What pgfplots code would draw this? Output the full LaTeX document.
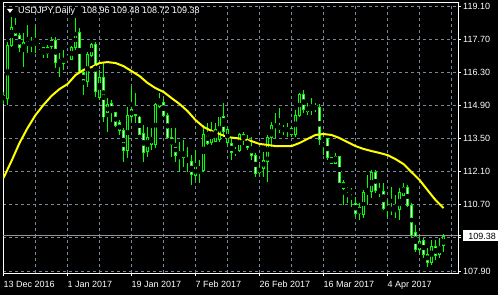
\documentclass[border=0pt]{standalone}
\usepackage{pgfplots}
\pgfplotsset{compat=1.18}
\usepackage{pgfplotstable}
\usepackage{fontspec}
\setmainfont{Liberation Sans}
\definecolor{candle}{RGB}{0,255,0}
\definecolor{ma}{RGB}{255,255,0}
\definecolor{gridc}{RGB}{119,136,153}
\definecolor{priceline}{RGB}{150,150,150}
\pgfplotstableread{
i O H L C
0 115.30 115.47 114.96 115.13
1 115.21 117.58 114.92 117.45
2 117.45 118.64 117.37 118.21
3 118.21 118.59 117.83 117.87
4 117.87 117.96 117.16 117.33
5 117.24 117.96 116.52 117.54
6 117.45 118.30 117.11 117.58
7 117.58 117.79 117.16 117.49
8 117.58 118.21 117.11 117.45
9 117.41 117.54 117.24 117.33
10 117.33 117.37 116.90 117.11
11 117.11 117.45 116.90 117.33
12 117.37 117.79 117.28 117.66
13 117.66 117.79 116.48 116.73
14 116.82 117.11 116.10 116.69
15 116.69 117.24 116.40 116.90
16 116.86 117.03 116.78 116.94
17 116.86 117.41 116.82 117.33
18 117.33 118.59 117.24 118.00
19 118.00 118.17 116.31 116.35
20 116.31 116.40 115.34 115.89
21 115.89 117.16 115.68 117.03
22 116.99 117.54 116.94 117.49
23 117.49 117.58 115.25 115.47
24 115.25 116.40 115.13 116.06
25 116.06 116.69 114.20 114.41
26 114.58 115.21 113.78 114.92
27 114.96 115.13 114.20 114.58
28 114.58 114.62 113.99 114.07
29 114.16 114.28 113.65 113.82
30 113.86 113.94 112.51 113.01
31 113.01 114.83 112.68 114.49
32 114.45 115.68 114.20 114.71
33 114.75 115.42 114.16 114.49
34 114.41 114.45 113.65 113.69
35 113.73 114.07 112.51 112.93
36 112.93 113.99 112.72 113.56
37 113.23 113.94 113.01 113.56
38 113.23 115.00 113.10 114.92
39 114.87 115.42 114.79 115.13
40 115.04 115.21 114.41 114.49
41 114.49 114.58 113.52 113.56
42 113.56 113.94 112.72 113.23
43 113.23 113.94 112.51 112.80
44 112.80 113.35 112.08 112.93
45 112.93 113.44 112.30 112.68
46 112.59 113.14 112.08 112.55
47 112.55 112.80 111.54 111.96
48 111.92 113.01 111.75 112.30
49 112.17 112.59 111.62 112.30
50 112.17 114.07 112.08 113.69
51 113.69 114.16 113.23 113.31
52 113.35 114.20 113.23 113.78
53 113.39 114.16 113.35 113.86
54 113.44 114.41 113.35 114.41
55 114.41 115.00 113.56 113.78
56 113.35 113.99 113.23 113.86
57 113.31 113.52 112.59 112.89
58 112.89 113.14 112.76 113.01
59 113.01 113.73 112.93 113.65
60 113.65 113.78 113.23 113.44
61 113.44 113.65 113.01 113.14
62 113.14 113.56 112.59 112.80
63 112.80 112.89 111.87 112.04
64 112.08 112.38 111.96 112.25
65 112.25 112.93 111.87 112.59
66 112.51 113.65 111.66 113.56
67 113.56 114.20 113.14 114.03
68 113.99 114.58 113.52 114.07
69 114.07 114.79 113.73 113.86
70 113.82 114.07 113.65 113.94
71 113.82 114.16 113.56 113.94
72 113.65 113.99 113.56 113.94
73 113.65 114.71 113.56 114.49
74 114.49 115.42 114.41 115.34
75 115.34 115.55 114.58 114.71
76 114.66 115.00 114.49 114.83
77 114.71 115.21 114.49 114.83
78 114.83 115.00 114.62 114.79
79 114.83 114.96 113.23 113.44
80 113.39 113.65 112.80 113.52
81 113.48 113.52 112.59 112.68
82 112.46 112.72 112.42 112.68
83 112.46 112.89 112.42 112.72
84 112.72 112.76 111.62 111.66
85 111.66 111.75 110.69 111.37
86 111.28 111.45 110.77 111.37
87 111.28 111.41 110.60 111.20
88 110.77 111.03 110.18 110.35
89 110.35 110.77 110.06 110.60
90 110.27 111.32 110.14 111.20
91 111.24 111.96 110.69 111.20
92 111.24 112.17 110.99 112.08
93 112.08 112.17 111.20 111.32
94 111.32 111.62 111.03 111.20
95 111.24 111.62 110.48 110.56
96 110.52 110.90 110.18 110.60
97 110.60 111.45 110.27 110.44
98 110.44 111.11 110.14 110.52
99 110.48 111.41 110.06 111.20
100 111.11 111.62 111.07 111.45
101 111.41 111.54 110.60 110.69
102 110.69 110.77 109.34 109.42
103 109.51 109.84 108.70 108.79
104 108.79 109.29 108.66 109.13
105 109.21 109.29 108.45 108.58
106 108.62 108.87 108.07 108.28
107 108.28 109.21 108.15 108.92
108 108.92 109.21 108.37 108.54
109 108.58 109.29 108.45 108.92
110 108.96 109.48 108.72 109.38
}\candles
\begin{document}
\begin{tikzpicture}
\path[use as bounding box, fill=black] (-3pt,-22pt) rectangle (495pt,273pt);
\begin{axis}[
  at={(0pt,0pt)}, anchor=south west,
  scale only axis, width=455pt, height=270pt,
  xmin=-0.125, xmax=113.625, ymin=107.816, ymax=119.227,
  axis line style={white, line width=1pt},
  xtick={0,16,32,48,64,80,96},
  xticklabels={13 Dec 2016,1 Jan 2017,19 Jan 2017,7 Feb 2017,26 Feb 2017,16 Mar 2017,4 Apr 2017},
  minor xtick={8,24,40,56,72,88,104,112},
  ytick={107.90,109.30,110.70,112.10,113.50,114.90,116.30,117.70,119.10},
  yticklabels={107.90,,110.70,112.10,113.50,114.90,116.30,117.70,119.10},
  xtick pos=left, ytick pos=right, yticklabel pos=right,
  tick align=outside,
  major tick length=3pt, minor tick length=0pt,
  tick style={white, line width=1pt},
  grid=both,
  major grid style={gridc, line width=1pt, dash pattern=on 3pt off 3pt},
  minor grid style={gridc, line width=1pt, dash pattern=on 3pt off 3pt},
  ticklabel style={font=\fontsize{9pt}{10pt}\selectfont, text=white},
  xticklabel style={anchor=north west, inner sep=0pt, yshift=-5pt},
  yticklabel style={anchor=west, inner sep=0pt, xshift=2pt},
  extra y ticks={109.38}, extra y tick labels={109.38},
  extra y tick style={grid=major, major grid style={solid, draw=priceline, line width=1pt},
    yticklabel style={fill=white, text=black, minimum width=38pt, minimum height=11pt, inner sep=0pt}},
]
% wicks
\addplot[only marks, mark=none, forget plot,
  error bars/.cd, y dir=both, y explicit, error mark=none,
  error bar style={draw=candle, line width=1pt, line cap=butt}]
  table[x=i, y expr={(\thisrow{H}+\thisrow{L})/2}, y error expr={(\thisrow{H}-\thisrow{L})/2}] {\candles};
% bodies (outline)
\addplot[only marks, mark=none, forget plot,
  error bars/.cd, y dir=both, y explicit, error mark=none,
  error bar style={draw=candle, line width=3pt, line cap=butt}]
  table[x=i, y expr={(\thisrow{O}+\thisrow{C})/2}, y error expr={abs(\thisrow{C}-\thisrow{O})/2+0.0211}] {\candles};
% bull bodies (black)
\addplot[only marks, mark=none, forget plot,
  error bars/.cd, y dir=both, y explicit, error mark=none,
  error bar style={draw=black, line width=1pt, line cap=butt}]
  table[x=i, y expr={(\thisrow{O}+\thisrow{C})/2}, y error expr={(\thisrow{C}>\thisrow{O})*max(abs(\thisrow{C}-\thisrow{O})/2-0.0211,0)}] {\candles};
% bear bodies (white)
\addplot[only marks, mark=none, forget plot,
  error bars/.cd, y dir=both, y explicit, error mark=none,
  error bar style={draw=white, line width=1pt, line cap=butt}]
  table[x=i, y expr={(\thisrow{O}+\thisrow{C})/2}, y error expr={(\thisrow{C}<\thisrow{O})*max(abs(\thisrow{C}-\thisrow{O})/2-0.0211,0)}] {\candles};
% moving average
\addplot[ma, line width=2pt, mark=none] coordinates {
(0,111.83) (2,112.55) (4,113.31) (6,113.94) (8,114.49) (10,114.92) (12,115.30) (14,115.59)
(16,115.80) (18,116.18) (20,116.40) (22,116.52) (24,116.69) (26,116.73) (28,116.69) (30,116.56)
(32,116.35) (34,116.14) (36,115.85) (38,115.63) (40,115.47) (42,115.21) (44,114.96) (46,114.66)
(48,114.28) (50,113.99) (52,113.82) (54,113.69) (56,113.56) (58,113.52) (60,113.48) (62,113.39)
(64,113.27) (66,113.23) (68,113.18) (70,113.18) (72,113.18) (74,113.31) (76,113.48) (78,113.65)
(80,113.69) (82,113.65) (84,113.52) (86,113.35) (88,113.18) (90,113.06) (92,112.97) (94,112.89)
(96,112.80) (98,112.63) (100,112.42) (102,112.08) (104,111.75) (106,111.32) (108,110.90) (110,110.56)
};
\end{axis}
\fill[white] (4pt,264pt) -- (10pt,264pt) -- (7pt,260pt) -- cycle;
\node[anchor=west, inner sep=0pt, text=white, font=\fontsize{9pt}{10pt}\selectfont] at (15pt,262pt)
  {USDJPY,Daily\hspace{7pt}108.96 109.48 108.72 109.38};
\end{tikzpicture}
\end{document}
